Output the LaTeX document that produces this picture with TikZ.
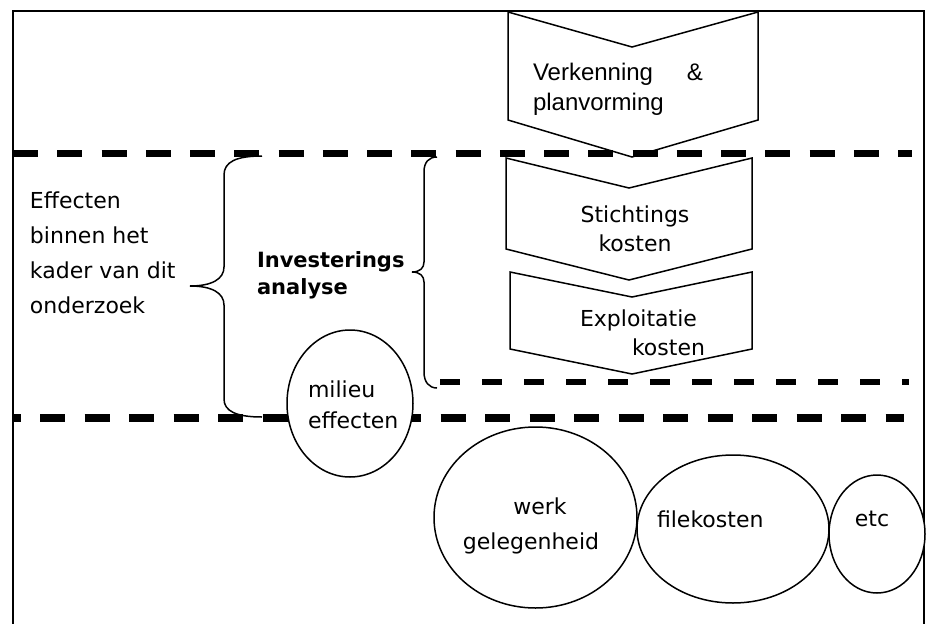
\documentclass[tikz,border=0pt]{standalone}
\usepackage{fontspec}
\setmainfont{DejaVu Sans}
\newfontfamily\arialf{Liberation Sans}
\usetikzlibrary{shapes.geometric}
\tikzset{
  outline/.style={line width=1.5pt, line join=miter},
  bracestyle/.style={line width=1.5pt},
  bubble/.style={ellipse, draw, line width=1.5pt, fill=white, inner sep=0pt},
  txt/.style={inner sep=0pt, outer sep=0pt, text=black},
  thickdash/.style={line width=7.5pt},
}
\begin{document}
\begin{tikzpicture}[x=1pt,y=-1pt]
\useasboundingbox (0,0) rectangle (927,624);
% frame
\draw[line width=2.5pt] (13,630) -- (13,11) -- (924,11) -- (924,630);
% chevrons
\draw[outline, fill=white] (508,12) -- (632,47) -- (758,12) -- (758,120) -- (632,157) -- (508,120) -- cycle;
\draw[outline, fill=white] (506,158) -- (629,188) -- (752,158) -- (752,249) -- (629,280) -- (506,249) -- cycle;
\draw[outline, fill=white] (510,272) -- (632,297) -- (752,272) -- (752,349) -- (632,374) -- (510,349) -- cycle;
% braces
\draw[bracestyle] (262,156) .. controls (236,156) and (224,162) .. (224,175) -- (224,267)
  .. controls (224,279) and (212,286) .. (190,286)
  .. controls (212,286) and (224,293) .. (224,305) -- (224,399)
  .. controls (224,411) and (236,417) .. (262,417);
\draw[bracestyle] (437,157) .. controls (429,157) and (424,162) .. (424,172) -- (424,262)
  .. controls (424,268) and (420,272) .. (412,272)
  .. controls (420,272) and (424,276) .. (424,282) -- (424,372)
  .. controls (424,382) and (429,388) .. (437,388);
% dashed lines
\draw[thickdash, dash pattern=on 25pt off 19.25pt] (13,153.5) -- (912,153.5);
\draw[line width=6.5pt, dash pattern=on 20pt off 22pt] (440,382) -- (909,382);
\draw[line width=8pt, dash pattern=on 25pt off 19.5pt, dash phase=17.5pt] (13,417.5) -- (904,417.5);
% ellipses
\node[bubble, minimum width=126pt, minimum height=147pt] (milieu) at (350,403.5) {};
\node[bubble, minimum width=203pt, minimum height=181pt] (werk) at (535.5,517.5) {};
\node[bubble, minimum width=192pt, minimum height=148pt] (file) at (733,529) {};
\node[bubble, minimum width=96pt, minimum height=118pt] (etc) at (877,534) {};
% texts
\node[txt, anchor=base west] (tverk) at (533,80) {\arialf\fontsize{24}{30}\selectfont
  \begin{tabular}[t]{@{}l@{}}\makebox[170pt][s]{Verkenning \&}\\ planvorming\end{tabular}};
\node[txt, anchor=base] (tsticht) at (635,222) {\fontsize{22}{29.5}\selectfont
  \begin{tabular}[t]{@{}c@{}}Stichtings\\ kosten\end{tabular}};
\node[txt, anchor=base west] (texpl) at (580,326.5) {\fontsize{22}{28.5}\selectfont
  \begin{tabular}[t]{@{}l@{}}Exploitatie\\ \hspace*{52pt}kosten\end{tabular}};
\node[txt, anchor=base west] (teff) at (30,208) {\fontsize{22}{35}\selectfont
  \begin{tabular}[t]{@{}l@{}}Effecten\\ binnen het\\ kader van dit\\ onderzoek\end{tabular}};
\node[txt, anchor=base west] (tinv) at (257,267) {\fontsize{21}{27}\selectfont\bfseries
  \begin{tabular}[t]{@{}l@{}}Investerings\\ analyse\end{tabular}};
\node[txt, anchor=base west] (tmil) at (308,397) {\fontsize{22}{31}\selectfont
  \begin{tabular}[t]{@{}l@{}}milieu\\ effecten\end{tabular}};
\node[txt, anchor=base] (twerk) at (531,514) {\fontsize{22}{35}\selectfont
  \begin{tabular}[t]{@{}c@{}}\hspace*{18pt}werk\\ gelegenheid\end{tabular}};
\node[txt, anchor=base west] (tfile) at (657,527) {\fontsize{22}{26}\selectfont filekosten};
\node[txt, anchor=base] (tetc) at (872,526) {\fontsize{22}{26}\selectfont etc};
\end{tikzpicture}
\end{document}
